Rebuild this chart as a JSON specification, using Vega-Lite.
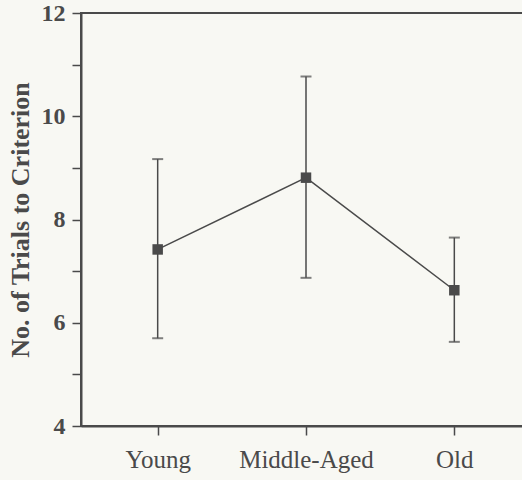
{
  "$schema": "https://vega.github.io/schema/vega-lite/v6.json",
  "width": 450,
  "height": 413,
  "autosize": {"type": "none"},
  "padding": {"left": 81, "top": 13, "right": 0, "bottom": 54},
  "background": "#f8f8f3",
  "config": {
    "view": {"stroke": "#4a4a4a", "strokeWidth": 2},
    "font": "Liberation Serif",
    "axis": {
      "domainColor": "#4a4a4a",
      "domainWidth": 2,
      "tickColor": "#4a4a4a",
      "tickWidth": 1.5,
      "labelColor": "#4a4a4a",
      "titleColor": "#4a4a4a",
      "grid": false,
      "labelFont": "Liberation Serif",
      "titleFont": "Liberation Serif"
    }
  },
  "data": {
    "values": [
      {"group": "Young", "mean": 7.42, "low": 5.70, "high": 9.17},
      {"group": "Middle-Aged", "mean": 8.81, "low": 6.87, "high": 10.77},
      {"group": "Old", "mean": 6.63, "low": 5.63, "high": 7.65}
    ]
  },
  "encoding": {
    "x": {
      "field": "group",
      "type": "nominal",
      "sort": ["Young", "Middle-Aged", "Old"],
      "scale": {"type": "point", "padding": 0.517},
      "axis": {
        "title": null,
        "labelAngle": 0,
        "labelFontSize": 25,
        "labelPadding": 12,
        "tickSize": 9
      }
    }
  },
  "layer": [
    {
      "mark": {"type": "rule", "color": "#4a4a4a", "strokeWidth": 1.5},
      "encoding": {
        "y": {
          "field": "low",
          "type": "quantitative",
          "scale": {"domain": [4, 12], "nice": false, "zero": false},
          "axis": {
            "title": "No. of Trials to Criterion",
            "titleFontSize": 26,
            "titleFontWeight": "bold",
            "titlePadding": 8,
            "values": [4, 5, 6, 7, 8, 9, 10, 11, 12],
            "labelExpr": "datum.value % 2 == 0 ? datum.label : ''",
            "labelFontSize": 24,
            "labelFontWeight": "bold",
            "labelPadding": 7,
            "tickSize": 9
          }
        },
        "y2": {"field": "high"}
      }
    },
    {
      "mark": {"type": "tick", "color": "#4a4a4a", "size": 11, "thickness": 2, "orient": "horizontal"},
      "encoding": {"y": {"field": "low", "type": "quantitative"}}
    },
    {
      "mark": {"type": "tick", "color": "#4a4a4a", "size": 11, "thickness": 2, "orient": "horizontal"},
      "encoding": {"y": {"field": "high", "type": "quantitative"}}
    },
    {
      "mark": {"type": "line", "color": "#4a4a4a", "strokeWidth": 1.5},
      "encoding": {"y": {"field": "mean", "type": "quantitative"}}
    },
    {
      "mark": {"type": "square", "color": "#4a4a4a", "filled": true, "opacity": 1, "size": 110},
      "encoding": {"y": {"field": "mean", "type": "quantitative"}}
    }
  ]
}
